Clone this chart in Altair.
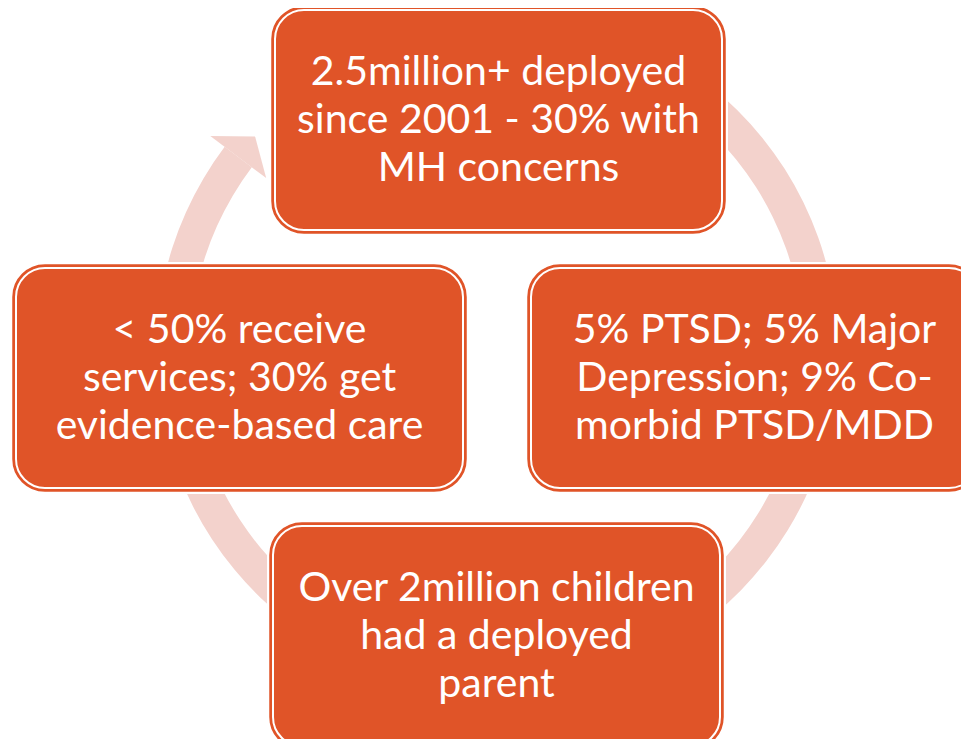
import math
import altair as alt
import pandas as pd

# ---------------- content ----------------
box_order = ["top", "right", "bottom", "left"]
top_lines = ["2.5million+ deployed", "since 2001 - 30% with", "MH concerns"]
right_lines = ["5% PTSD; 5% Major", "Depression; 9% Co-", "morbid PTSD/MDD"]
bottom_lines = ["Over 2million children", "had a deployed", "parent"]
left_lines = ["< 50% receive", "services; 30% get", "evidence-based care"]
box_lines = {"top": top_lines, "right": right_lines, "bottom": bottom_lines, "left": left_lines}

# ---------------- layout / style ----------------
W, H = 953, 731            # drawing area (page px 8..961, 8..739)
X0, Y0 = 8, 8
ORANGE = "#E05428"
RING = "#F3D2CC"
FONT = "Lato"
FONT_SIZE = 41

BOX_W, BOX_H = 453, 226
CORNER = 32
box_center = {"top": (498.5, 120), "right": (754.5, 378),
              "bottom": (496.5, 636), "left": (239.5, 378)}
line_offsets = [-35, 12.5, 61]

RING_C = (497, 352)
R_IN, R_OUT = 307, 341
R_MID = (R_IN + R_OUT) / 2
BASE_DEG = -143.0           # screen angle of the arrow's base
TIP_DEG = -138.3            # screen angle of the arrow's tip
START_DEG = -130.0          # screen angle where the ring starts (under top box)

# ---------------- tables ----------------
boxes = pd.DataFrame([
    {"name": n,
     "x1": box_center[n][0] - BOX_W / 2, "x2": box_center[n][0] + BOX_W / 2,
     "y1": box_center[n][1] - BOX_H / 2, "y2": box_center[n][1] + BOX_H / 2}
    for n in box_order
])
mask = boxes.assign(x1=boxes.x1 - 3, x2=boxes.x2 + 3, y1=boxes.y1 - 3, y2=boxes.y2 + 3)
inner = boxes.assign(x1=boxes.x1 + 3, x2=boxes.x2 - 3, y1=boxes.y1 + 3, y2=boxes.y2 - 3)

texts = pd.DataFrame([
    {"text": t, "x": box_center[n][0], "y": box_center[n][1] + line_offsets[i]}
    for n in box_order for i, t in enumerate(box_lines[n])
])

# ring split in two arcs (vega angles: 0 at 12 o'clock, clockwise)
ring_df = pd.DataFrame({
    "x": [RING_C[0], RING_C[0]], "y": [RING_C[1], RING_C[1]],
    "t1": [math.radians(START_DEG + 90 + 360), 0.0],
    "t2": [2 * math.pi, math.radians(BASE_DEG + 90 + 360)],
})


def polar(r, deg):
    a = math.radians(deg)
    return RING_C[0] + r * math.cos(a), RING_C[1] + r * math.sin(a)


anchor = polar(R_MID, BASE_DEG)
head_pts = [polar(R_OUT + 18, BASE_DEG), polar(R_MID, TIP_DEG), polar(R_IN - 18, BASE_DEG)]
S = 50.0
path = "M" + " L".join(f"{(px - anchor[0]) / S:.4f},{(py - anchor[1]) / S:.4f}" for px, py in head_pts) + " Z"
head_df = pd.DataFrame({"x": [anchor[0]], "y": [anchor[1]]})

xs = alt.Scale(domain=[X0, X0 + W], zero=False, nice=False)
ys = alt.Scale(domain=[Y0, Y0 + H], zero=False, nice=False, reverse=True)
X = alt.X("x:Q", scale=xs, axis=None)
Y = alt.Y("y:Q", scale=ys, axis=None)

ring = alt.Chart(ring_df).mark_arc(
    radius=R_OUT, radius2=R_IN, color=RING, strokeWidth=0
).encode(
    x=X, y=Y,
    theta=alt.Theta("t1:Q", scale=None, stack=None),
    theta2=alt.Theta2("t2:Q"),
)

head = alt.Chart(head_df).mark_point(
    shape=path, size=(2 * S) ** 2, filled=True, fill=RING, opacity=1, strokeWidth=0
).encode(x=X, y=Y)

RX = alt.X("x1:Q", scale=xs, axis=None)
RX2 = alt.X2("x2:Q")
RY = alt.Y("y1:Q", scale=ys, axis=None)
RY2 = alt.Y2("y2:Q")

mask_l = alt.Chart(mask).mark_rect(cornerRadius=CORNER + 3, color="white").encode(
    x=RX, x2=RX2, y=RY, y2=RY2)
box_l = alt.Chart(boxes).mark_rect(
    cornerRadius=CORNER, fill=ORANGE, stroke=ORANGE, strokeWidth=1.5
).encode(x=RX, x2=RX2, y=RY, y2=RY2)
inner_l = alt.Chart(inner).mark_rect(
    cornerRadius=CORNER - 3, filled=False, fillOpacity=0, stroke="white", strokeWidth=2
).encode(x=RX, x2=RX2, y=RY, y2=RY2)

text_l = alt.Chart(texts).mark_text(
    font=FONT, fontSize=FONT_SIZE, color="white", align="center", baseline="alphabetic"
).encode(x=X, y=Y, text="text:N")

chart = alt.layer(ring, head, mask_l, box_l, inner_l, text_l).properties(
    width=W, height=H, padding=0,
    autosize=alt.AutoSizeParams(type="none"),
    background="white",
).configure_view(stroke=None)

chart.save("out.html", embed_options={"renderer": "svg", "actions": False})
